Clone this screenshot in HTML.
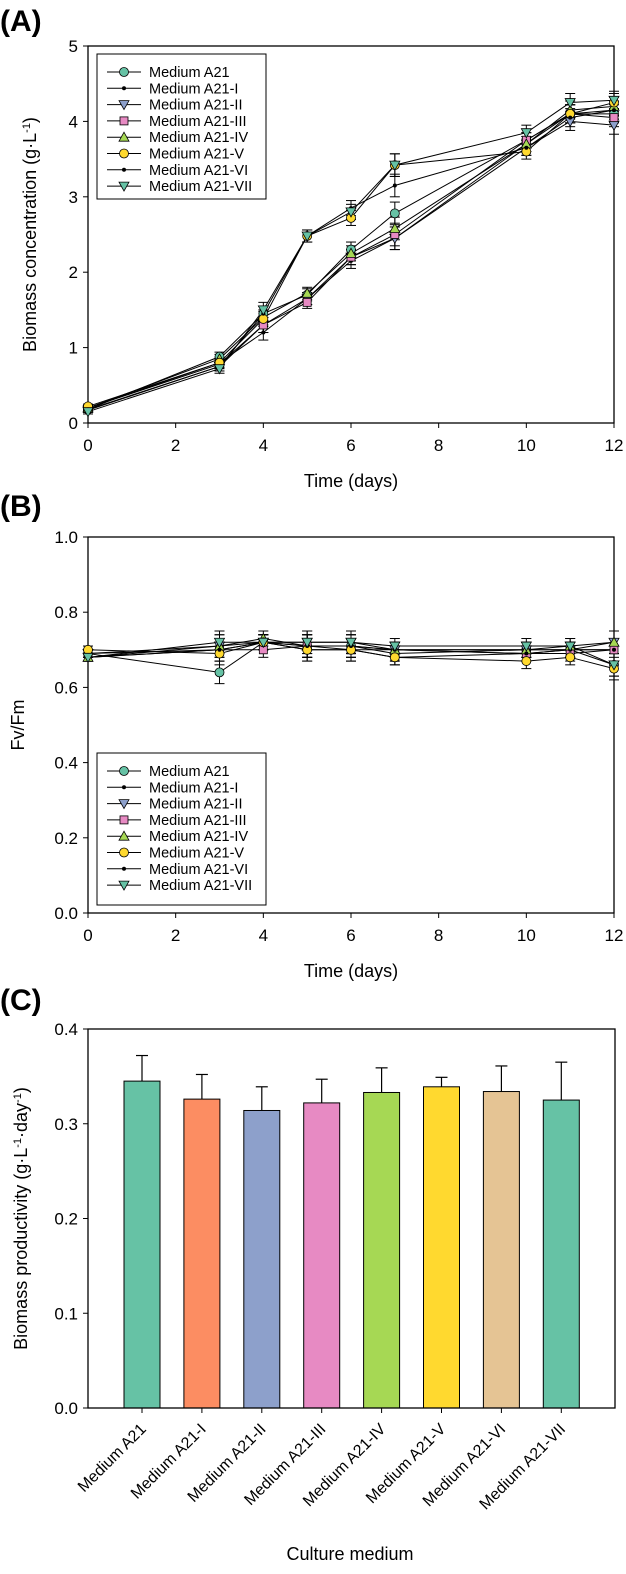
<!DOCTYPE html>
<html><head><meta charset="utf-8">
<style>
html,body{margin:0;padding:0;background:#fff;}
svg{display:block;font-family:"Liberation Sans",Arial,sans-serif;}
</style></head>
<body>
<svg id="fig" width="626" height="1574" viewBox="0 0 626 1574" xmlns="http://www.w3.org/2000/svg">
<text x="0" y="31" font-size="30" font-weight="bold">(A)</text>
<text x="0" y="516" font-size="30" font-weight="bold">(B)</text>
<text x="0" y="1010" font-size="30" font-weight="bold">(C)</text>
</svg>
<script>
// ---- data ----
const days = [0,3,4,5,6,7,10,11,12];
const seriesNames = ["Medium A21","Medium A21-I","Medium A21-II","Medium A21-III","Medium A21-IV","Medium A21-V","Medium A21-VI","Medium A21-VII"];
const biomassA21  = [0.18,0.88,1.45,1.70,2.30,2.78,3.75,4.10,4.10];
const biomassI    = [0.20,0.80,1.20,1.65,2.15,2.45,3.70,4.10,4.15];
const biomassII   = [0.17,0.75,1.30,1.65,2.20,2.45,3.65,4.00,3.95];
const biomassIII  = [0.20,0.78,1.30,1.60,2.20,2.50,3.75,4.10,4.05];
const biomassIV   = [0.20,0.85,1.40,1.72,2.25,2.58,3.70,4.15,4.20];
const biomassV    = [0.22,0.80,1.38,2.48,2.72,3.42,3.60,4.10,4.25];
const biomassVI   = [0.18,0.75,1.45,2.48,2.85,3.15,3.65,4.05,4.15];
const biomassVII  = [0.15,0.72,1.50,2.48,2.80,3.42,3.85,4.25,4.28];
const biomassErr  = [0.03,0.06,0.10,0.08,0.10,0.15,0.10,0.12,0.12];
const fvA21  = [0.69,0.64,0.72,0.71,0.71,0.69,0.70,0.70,0.66];
const fvI    = [0.68,0.70,0.72,0.70,0.70,0.70,0.69,0.70,0.70];
const fvII   = [0.69,0.71,0.72,0.72,0.72,0.70,0.70,0.70,0.72];
const fvIII  = [0.69,0.70,0.70,0.71,0.70,0.68,0.69,0.69,0.70];
const fvIV   = [0.68,0.71,0.73,0.71,0.71,0.70,0.70,0.71,0.72];
const fvV    = [0.70,0.69,0.72,0.70,0.70,0.68,0.67,0.68,0.65];
const fvVI   = [0.68,0.70,0.72,0.71,0.71,0.70,0.69,0.70,0.70];
const fvVII  = [0.68,0.72,0.72,0.72,0.72,0.71,0.71,0.71,0.66];
const fvErr  = [0.01,0.03,0.02,0.03,0.03,0.02,0.02,0.02,0.03];
const xTicks = [0,2,4,6,8,10,12];
const biomassTicks = [0,1,2,3,4,5];
const fvTicks = [0.0,0.2,0.4,0.6,0.8,1.0];
const mediums = ["Medium A21","Medium A21-I","Medium A21-II","Medium A21-III","Medium A21-IV","Medium A21-V","Medium A21-VI","Medium A21-VII"];
const productivity = [0.345,0.326,0.314,0.322,0.333,0.339,0.334,0.325];
const productivityErr = [0.027,0.026,0.025,0.025,0.026,0.010,0.027,0.040];
const prodTicks = [0.0,0.1,0.2,0.3,0.4];

const markers = [["circle","#66c2a5"],["dot","#000"],["tdown","#8da0cb"],["square","#e78ac3"],["tup","#a6d854"],["circle","#ffd92f"],["dot","#000"],["tdown","#66c2a5"]];
const barColors = ["#66c2a5","#fc8d62","#8da0cb","#e78ac3","#a6d854","#ffd92f","#e5c494","#66c2a5"];

const NS="http://www.w3.org/2000/svg";
const svg=document.getElementById('fig');
function mk(tag,attrs,parent){const e=document.createElementNS(NS,tag);for(const k in attrs)e.setAttribute(k,attrs[k]);(parent||svg).appendChild(e);return e;}

function drawMarker(g,type,color,x,y){
  let e;
  if(type==="circle"){e=mk('circle',{cx:x,cy:y,r:4.5,fill:color,stroke:'#000','stroke-width':0.8},g);}
  else if(type==="dot"){e=mk('circle',{cx:x,cy:y,r:2,fill:'#000'},g);}
  else if(type==="square"){e=mk('rect',{x:x-4,y:y-4,width:8,height:8,fill:color,stroke:'#000','stroke-width':0.8},g);}
  else if(type==="tup"){e=mk('polygon',{points:`${x-5},${y+4} ${x+5},${y+4} ${x},${y-5}`,fill:color,stroke:'#000','stroke-width':0.8},g);}
  else {e=mk('polygon',{points:`${x-5},${y-4} ${x+5},${y-4} ${x},${y+5}`,fill:color,stroke:'#000','stroke-width':0.8},g);}
  return e;
}

function lineChart(opt){
  const L=88,R=614,T=opt.top,B=opt.bottom;
  const xs=v=>L+(v-0)/12*(R-L);
  const ys=v=>B-(v-opt.ymin)/(opt.ymax-opt.ymin)*(B-T);
  const g=mk('g',{});
  
  
  const frame=mk('rect',{x:L,y:T,width:R-L,height:B-T,fill:'none',stroke:'#000','stroke-width':1.3},g);
  
  
  xTicks.forEach(t=>{
    mk('line',{x1:xs(t),x2:xs(t),y1:B,y2:B+5,stroke:'#000','stroke-width':1},g);
    const tx=mk('text',{x:xs(t),y:B+28,'font-size':17,'text-anchor':'middle'},g);tx.textContent=t;
    
    
  });
  opt.yTicks.forEach(t=>{
    mk('line',{x1:L-5,x2:L,y1:ys(t),y2:ys(t),stroke:'#000','stroke-width':1},g);
    const tx=mk('text',{x:L-10,y:ys(t)+6,'font-size':17,'text-anchor':'end'},g);tx.textContent=opt.fmt(t);
    
    
  });
  const xt=mk('text',{x:(L+R)/2,y:B+64,'font-size':18,'text-anchor':'middle'},g);xt.textContent='Time (days)';
  
  
  const yt=mk('text',{x:0,y:0,'font-size':18,'text-anchor':'middle',transform:`translate(${opt.ytx},${(T+B)/2}) rotate(-90)`},g);
  yt.innerHTML=opt.ytitle;
  
  
  opt.series.forEach((vals,si)=>{
    const sg=mk('g',{},g);
    
    
    const pts=vals.map((v,i)=>xs(days[i])+','+ys(v)).join(' ');
    mk('polyline',{points:pts,fill:'none',stroke:'#000','stroke-width':1},sg);
    vals.forEach((v,i)=>{
      const e=opt.err[i];const x=xs(days[i]);
      mk('line',{x1:x,x2:x,y1:ys(v+e),y2:ys(v-e),stroke:'#000','stroke-width':1},sg);
      mk('line',{x1:x-5,x2:x+5,y1:ys(v+e),y2:ys(v+e),stroke:'#000','stroke-width':1},sg);
      mk('line',{x1:x-5,x2:x+5,y1:ys(v-e),y2:ys(v-e),stroke:'#000','stroke-width':1},sg);
    });
  });
  opt.series.forEach((vals,si)=>{
    vals.forEach((v,i)=>{
      const m=drawMarker(g,markers[si][0],markers[si][1],xs(days[i]),ys(v));
      
      
    });
  });
  const lg=mk('g',{},g);
  
  
  mk('rect',{x:97,y:opt.legTop,width:169,height:opt.legH,fill:'#fff',stroke:'#000','stroke-width':1},lg);
  seriesNames.forEach((n,i)=>{
    const y=opt.legTop+18+i*16.3;
    const eg=mk('g',{},lg);
    
    
    mk('line',{x1:107,x2:141,y1:y,y2:y,stroke:'#000','stroke-width':1},eg);
    drawMarker(eg,markers[i][0],markers[i][1],124,y);
    const t=mk('text',{x:149,y:y+5,'font-size':14.5},eg);t.textContent=n;
  });
}

lineChart({name:'biomass-chart',top:46,bottom:423,ymin:0,ymax:5,yTicks:biomassTicks,fmt:t=>t,
  ytx:36,ytitle:'Biomass concentration (g·L<tspan dy="-6" font-size="11">-1</tspan><tspan dy="6">)</tspan>',
  series:[biomassA21,biomassI,biomassII,biomassIII,biomassIV,biomassV,biomassVI,biomassVII],err:biomassErr,legTop:54,legH:145});
lineChart({name:'fvfm-chart',top:537,bottom:913,ymin:0,ymax:1,yTicks:fvTicks,fmt:t=>t.toFixed(1),
  ytx:24,ytitle:'Fv/Fm',
  series:[fvA21,fvI,fvII,fvIII,fvIV,fvV,fvVI,fvVII],err:fvErr,legTop:753,legH:152});

(function(){
  const L=88,R=615,T=1029,B=1408;
  const ys=v=>B-v/0.4*(B-T);
  const xc=i=>142+i*59.9;
  const g=mk('g',{});
  
  
  productivity.forEach((v,i)=>{
    const x=xc(i);
    const eb=mk('line',{x1:x,x2:x,y1:ys(v),y2:ys(v+productivityErr[i]),stroke:'#000','stroke-width':1.2},g);
    
    
    mk('line',{x1:x-6,x2:x+6,y1:ys(v+productivityErr[i]),y2:ys(v+productivityErr[i]),stroke:'#000','stroke-width':1.2},g);
    const r=mk('rect',{x:x-18,y:ys(v),width:36,height:B-ys(v),fill:barColors[i],stroke:'#000','stroke-width':1},g);
    
    
    mk('line',{x1:x,x2:x,y1:B,y2:B+5,stroke:'#000','stroke-width':1},g);
    const t=mk('text',{x:0,y:0,'font-size':16,'text-anchor':'end',transform:`translate(${x+5},${B+22}) rotate(-45)`},g);
    t.textContent=mediums[i];
    
    
  });
  const fr=mk('rect',{x:L,y:T,width:R-L,height:B-T,fill:'none',stroke:'#000','stroke-width':1.3},g);
  
  
  prodTicks.forEach(t=>{
    mk('line',{x1:L-5,x2:L,y1:ys(t),y2:ys(t),stroke:'#000','stroke-width':1},g);
    const tx=mk('text',{x:L-10,y:ys(t)+6,'font-size':17,'text-anchor':'end'},g);tx.textContent=t.toFixed(1);
    
    
  });
  const xt=mk('text',{x:350,y:1560,'font-size':18,'text-anchor':'middle'},g);xt.textContent='Culture medium';
  
  
  const yt=mk('text',{x:0,y:0,'font-size':18,'text-anchor':'middle',transform:`translate(27,${(T+B)/2}) rotate(-90)`},g);
  yt.innerHTML='Biomass productivity (g·L<tspan dy="-6" font-size="11">-1</tspan><tspan dy="6">·day</tspan><tspan dy="-6" font-size="11">-1</tspan><tspan dy="6">)</tspan>';
  
  
})();
</script>
</body></html>
